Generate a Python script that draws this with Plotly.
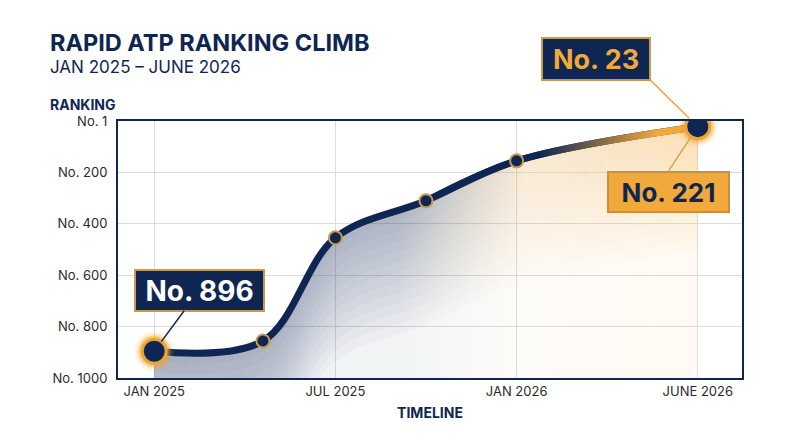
import plotly.graph_objects as go

# Timeline positions (evenly spaced tick slots) and ATP ranking at each checkpoint
MONTH_POS = [0, 0.6, 1.0, 1.5, 2.0, 3.0]
RANK = [896, 856, 455, 311, 156, 23]

TICK_POS = [0, 1, 2, 3]
TICK_TEXT = ['JAN 2025', 'JUL 2025', 'JAN 2026', 'JUNE 2026']
RANK_TICKS = [1, 200, 400, 600, 800, 1000]
RANK_TICK_TEXT = ['No. 1', 'No. 200', 'No. 400', 'No. 600', 'No. 800', 'No. 1000']

START_LABEL = 'No. 896'
END_LABEL = 'No. 23'
SIDE_LABEL = 'No. 221'

NAVY = '#0f2552'
GOLD = '#f0a93a'
GOLD_EDGE = '#c9994f'
FONT = 'Inter, Roboto, sans-serif'

W, H = 800, 447
M = dict(l=118, r=58, t=121, b=69)
Y_RANGE = [1000, 1]
LINE_W = 7

# convert line thickness in px into ranking units for the gradient band
px_per_rank = (H - M['t'] - M['b']) / (Y_RANGE[0] - Y_RANGE[1])
half_band = LINE_W / 2 / px_per_rank


def tint(a):
    # navy on the left, warm cream/gold towards the end of the climb
    return [[0, f'rgba(15,37,82,{a})'], [0.45, f'rgba(15,37,82,{a * 0.9:.3f})'],
            [0.68, f'rgba(232,185,115,{a * 0.8:.3f})'], [1, f'rgba(245,175,70,{a * 1.1:.3f})']]


def helper(x, y):
    return go.Scatter(x=x, y=y, mode='lines', line=dict(width=0, shape='spline'),
                      hoverinfo='skip', showlegend=False)


fig = go.Figure()

# faint tint under the whole curve
fig.add_trace(helper([MONTH_POS[0], MONTH_POS[-1]], [1000, 1000]))
fig.add_trace(go.Scatter(x=MONTH_POS, y=RANK, mode='lines', line=dict(width=0, shape='spline'),
                         fill='tonexty', hoverinfo='skip', showlegend=False,
                         fillgradient=dict(type='horizontal', colorscale=tint(0.06))))
# many thin stacked bands that hug the curve so the shading fades away from it
for depth in range(480, 0, -40):
    fig.add_trace(helper(MONTH_POS, [r + depth for r in RANK]))
    fig.add_trace(go.Scatter(x=MONTH_POS, y=RANK, mode='lines', line=dict(width=0, shape='spline'),
                             fill='tonexty', hoverinfo='skip', showlegend=False,
                             fillgradient=dict(type='horizontal', colorscale=tint(0.032))))

# main line
fig.add_trace(go.Scatter(x=MONTH_POS, y=RANK, mode='lines', hoverinfo='skip', showlegend=False,
                         line=dict(color=NAVY, width=LINE_W, shape='spline')))

# last stretch of the line blends from navy to gold
seg_x = MONTH_POS[3:]
fig.add_trace(helper(seg_x, [r + half_band for r in RANK[3:]]))
fig.add_trace(go.Scatter(x=seg_x, y=[r - half_band for r in RANK[3:]], mode='lines',
                         line=dict(width=0, shape='spline'), fill='tonexty',
                         hoverinfo='skip', showlegend=False,
                         fillgradient=dict(type='horizontal', colorscale=[
                             [0, NAVY], [0.42, NAVY], [0.85, GOLD], [1, GOLD]])))

# checkpoints
mid_x, mid_y = MONTH_POS[1:-1], RANK[1:-1]
end_x, end_y = [MONTH_POS[0], MONTH_POS[-1]], [RANK[0], RANK[-1]]
fig.add_trace(go.Scatter(x=mid_x, y=mid_y, mode='markers', hoverinfo='skip', showlegend=False,
                         marker=dict(size=13, color=NAVY, line=dict(color=GOLD_EDGE, width=2))))
for size, alpha in [(40, 0.1), (35, 0.2), (31, 0.4)]:
    fig.add_trace(go.Scatter(x=end_x, y=end_y, mode='markers', hoverinfo='skip', showlegend=False,
                             marker=dict(size=size, color=f'rgba(245,166,35,{alpha})', line=dict(width=0))))
fig.add_trace(go.Scatter(x=end_x, y=end_y, mode='markers', hoverinfo='skip', showlegend=False,
                         marker=dict(size=24, color=NAVY, line=dict(color='#e8a53a', width=3))))

# callouts
fig.add_annotation(x=MONTH_POS[0], y=RANK[0], ax=45, ay=-61, text=f'<b>{START_LABEL}</b>',
                   showarrow=True, arrowhead=0, arrowwidth=1.5, arrowcolor=NAVY, standoff=12,
                   font=dict(family=FONT, size=28, color='white'), width=117, height=29,
                   bgcolor=NAVY, bordercolor=GOLD_EDGE, borderwidth=2, borderpad=5)
fig.add_annotation(x=MONTH_POS[-1], y=RANK[-1], ax=-47, ay=-46, xanchor='right', yanchor='bottom',
                   text=f'<b>{END_LABEL}</b>', showarrow=True, arrowhead=0, arrowwidth=1.5,
                   arrowcolor=GOLD, standoff=12, font=dict(family=FONT, size=27, color=GOLD),
                   width=96, height=30,
                   bgcolor=NAVY, bordercolor=GOLD_EDGE, borderwidth=2, borderpad=5)
fig.add_annotation(x=MONTH_POS[-1], y=RANK[-1], ax=-29, ay=44, xanchor='center', yanchor='top',
                   text=f'<b>{SIDE_LABEL}</b>', showarrow=True, arrowhead=0, arrowwidth=1.5,
                   arrowcolor='#d9a04a', standoff=12, font=dict(family=FONT, size=26, color=NAVY),
                   width=109, height=28,
                   bgcolor=GOLD, bordercolor='#c98f3a', borderwidth=2, borderpad=5)

# titles
plot_w = W - M['l'] - M['r']
plot_h = H - M['t'] - M['b']
def px_x(v):
    return (v - M['l']) / plot_w
def px_y(v):
    return (H - M['b'] - v) / plot_h

fig.add_annotation(xref='paper', yref='paper', x=px_x(48), y=px_y(43), xanchor='left', yanchor='middle',
                   text='<b>RAPID ATP RANKING CLIMB</b>', showarrow=False,
                   font=dict(family=FONT, size=23.5, color=NAVY))
fig.add_annotation(xref='paper', yref='paper', x=px_x(48), y=px_y(67), xanchor='left', yanchor='middle',
                   text='JAN 2025 – JUNE 2026', showarrow=False,
                   font=dict(family=FONT, size=17, color=NAVY))
fig.add_annotation(xref='paper', yref='paper', x=px_x(48), y=px_y(104), xanchor='left', yanchor='middle',
                   text='<b>RANKING</b>', showarrow=False,
                   font=dict(family=FONT, size=14, color=NAVY))

fig.update_layout(
    width=W, height=H, margin=M,
    paper_bgcolor='white', plot_bgcolor='white',
    font=dict(family=FONT, color='#333333'),
    xaxis=dict(range=[-0.2, 3.244], tickvals=TICK_POS, ticktext=TICK_TEXT, automargin=False,
               tickfont=dict(size=13, color='#2a2a2a'), showgrid=True, gridcolor='#dcdcdc',
               zeroline=False, showline=True, mirror=True, linecolor=NAVY, linewidth=2,
               title=dict(text='<b>TIMELINE</b>', font=dict(size=14, color=NAVY), standoff=11)),
    yaxis=dict(range=Y_RANGE, tickvals=RANK_TICKS, ticktext=RANK_TICK_TEXT, automargin=False,
               tickfont=dict(size=13, color='#2a2a2a'), showgrid=True, gridcolor='#dcdcdc',
               zeroline=False, showline=True, mirror=True, linecolor=NAVY, linewidth=2,
               ticks='outside', ticklen=6, tickcolor='rgba(0,0,0,0)'),
)

# drop the default page margin so the figure sits at the window origin
fig.write_html('out.html', config={'displayModeBar': False},
               post_script="document.body.style.margin='0';")
